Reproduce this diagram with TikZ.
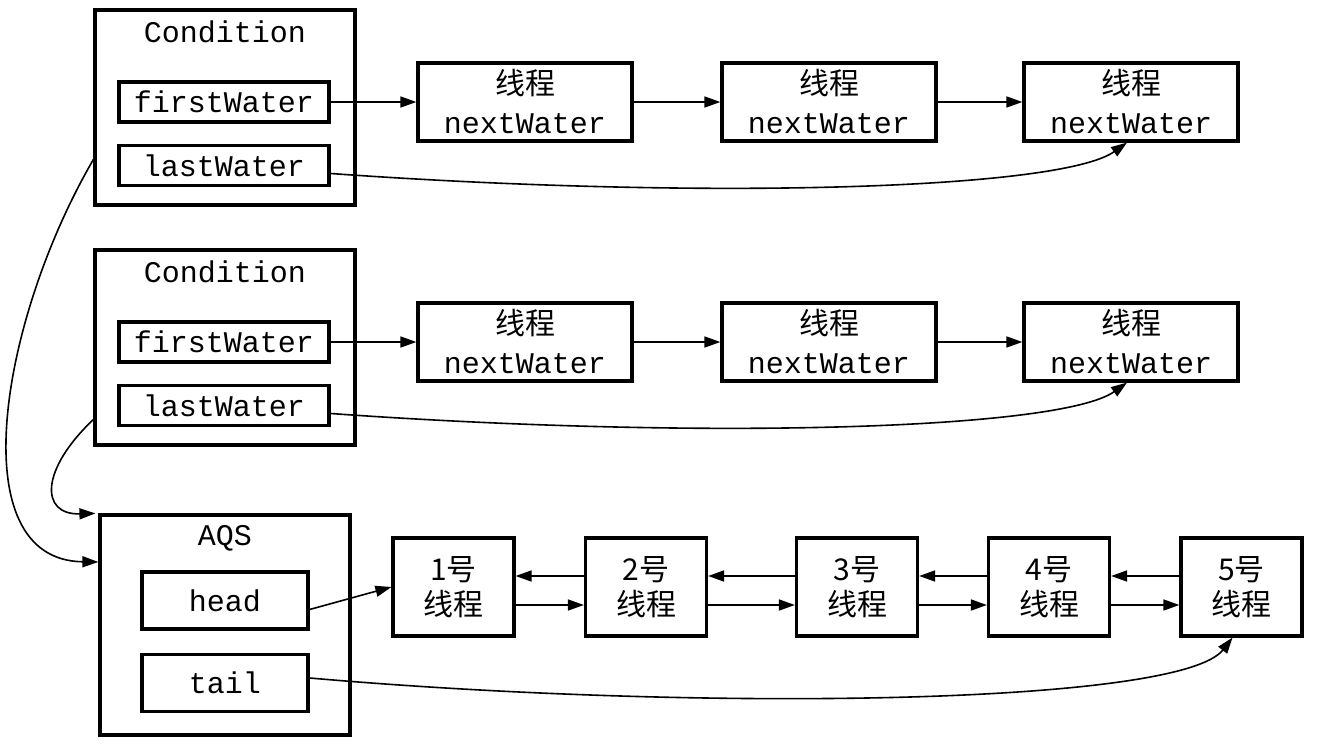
\documentclass[tikz,border=0pt]{standalone}
\usepackage{fontspec}
\setmonofont{Liberation Mono}
\newfontfamily\cjk{Noto Sans CJK SC}
\usetikzlibrary{arrows.meta}
\begin{document}
\begin{tikzpicture}[x=0.5pt,y=-0.5pt,
    box/.style={draw,line width=1.6pt,inner sep=0pt},
    holder/.style={box,minimum width=130pt,minimum height=97.5pt},
    field/.style={box,minimum width=105pt,minimum height=20pt,
      font=\fontsize{15}{18}\ttfamily},
    thread/.style={box,minimum width=107pt,minimum height=39pt,align=center,
      font=\fontsize{15}{19.5}\ttfamily},
    qnode/.style={box,minimum width=60.5pt,minimum height=49pt,align=center,
      font=\fontsize{15}{17.5}\cjk},
    title/.style={font=\fontsize{15}{18}\ttfamily,inner sep=0pt},
    link/.style={-{Triangle[length=8pt,width=5.5pt]},line width=0.8pt}]
  \useasboundingbox (0,0) rectangle (1322,754);
  % first condition queue
  \node[holder] (c1) at (225,107.5) {};
  \node[title] (c1t) at (225,32) {Condition};
  \node[field] (fw1) at (224,102) {firstWater};
  \node[field] (lw1) at (224,165.5) {lastWater};
  \node[thread] (t11) at (525,102) {{\cjk 线程}\\nextWater};
  \node[thread] (t12) at (829,102) {{\cjk 线程}\\nextWater};
  \node[thread] (t13) at (1131,102) {{\cjk 线程}\\nextWater};
  % second condition queue
  \node[holder] (c2) at (225,347.5) {};
  \node[title] (c2t) at (225,272) {Condition};
  \node[field] (fw2) at (224,342) {firstWater};
  \node[field] (lw2) at (224,405.5) {lastWater};
  \node[thread] (t21) at (525,342) {{\cjk 线程}\\nextWater};
  \node[thread] (t22) at (829,342) {{\cjk 线程}\\nextWater};
  \node[thread] (t23) at (1131,342) {{\cjk 线程}\\nextWater};
  % synchronization queue
  \node[box,minimum width=125pt,minimum height=110pt] (aqs) at (225,625) {};
  \node[title] (aqst) at (225,538) {AQS};
  \node[box,minimum width=83pt,minimum height=28.5pt,
    font=\fontsize{15}{18}\ttfamily] (head) at (225,600.5) {head};
  \node[box,minimum width=83pt,minimum height=28.5pt,
    font=\fontsize{15}{18}\ttfamily] (tail) at (225,683) {tail};
  \node[qnode] (n1) at (453.5,587) {1号\\线程};
  \node[qnode] (n2) at (646,587) {2号\\线程};
  \node[qnode] (n3) at (857,587) {3号\\线程};
  \node[qnode] (n4) at (1049,587) {4号\\线程};
  \node[qnode] (n5) at (1241.5,587) {5号\\线程};
  \begin{scope}[link]
    \draw (fw1) to (t11);
    \draw (t11) to (t12);
    \draw (t12) to (t13);
    \draw ([yshift=-4pt]lw1.east) .. controls (700,200) and (1060,190) .. ([xshift=-2pt]t13.south);
    \draw (fw2) to (t21);
    \draw (t21) to (t22);
    \draw (t22) to (t23);
    \draw ([yshift=-4pt]lw2.east) .. controls (700,440) and (1060,430) .. ([xshift=-2pt]t23.south);
    \draw ([yshift=-26pt]c1.west) .. controls (0,320) and (-40,560) .. ([yshift=31.5pt]aqs.west);
    \draw ([yshift=-36pt]c2.west) .. controls (40,470) and (40,515) .. ([xshift=-1.5pt]aqs.north west);
    \draw ([yshift=-4.5pt]head.east) to (n1.west);
    \foreach \a/\b in {n1/n2,n2/n3,n3/n4,n4/n5}{
      \draw ([yshift=5.5pt]\b.west) to ([yshift=5.5pt]\a.east);
      \draw ([yshift=-9pt]\a.east) to ([yshift=-9pt]\b.west);
    }
    \draw ([yshift=2.5pt]tail.east) .. controls (700,712) and (1180,705) .. ([xshift=-4.5pt]n5.south);
  \end{scope}
\end{tikzpicture}
\end{document}
